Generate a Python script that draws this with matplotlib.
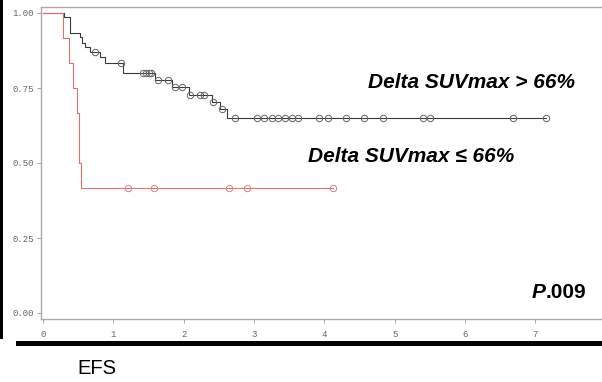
import numpy as np
import matplotlib
matplotlib.use("Agg")
import matplotlib.pyplot as plt
from matplotlib.patches import Rectangle

# Kaplan-Meier steps (time in years, survival)
black_t = [0, 0.30, 0.38, 0.53, 0.56, 0.60, 0.67, 0.81, 0.88, 1.14, 1.59, 1.84, 2.07, 2.40, 2.52, 2.62]
black_s = [1.0, 0.987, 0.933, 0.92, 0.90, 0.887, 0.87, 0.853, 0.833, 0.80, 0.777, 0.753, 0.727, 0.703, 0.68, 0.65]
black_cens = [0.74, 1.11, 1.42, 1.46, 1.50, 1.54, 1.64, 1.78, 1.88, 1.98, 2.09, 2.23, 2.29,
              2.42, 2.55, 2.73, 3.04, 3.14, 3.26, 3.34, 3.44, 3.54, 3.63, 3.93, 4.05,
              4.31, 4.57, 4.84, 5.41, 5.50, 6.69, 7.15]

red_t = [0, 0.28, 0.37, 0.43, 0.48, 0.51, 0.54]
red_s = [1.0, 0.917, 0.833, 0.75, 0.667, 0.50, 0.417]
red_cens = [1.21, 1.58, 2.65, 2.90, 4.12]

xticks = [0, 1, 2, 3, 4, 5, 6, 7]
yticks = [0.0, 0.25, 0.5, 0.75, 1.0]
ytick_labels = ["0.00", "0.25", "0.50", "0.75", "1.00"]

W, H = 602, 382
fig = plt.figure(figsize=(W / 100, H / 100), dpi=100)
fig.patch.set_facecolor("white")


def px(x, y):
    # pixel position -> figure fraction
    return x / W, 1 - y / H


ax = fig.add_axes([41 / W, 1 - 319 / H, (W - 41) / W, (319 - 7) / H])


def km(t, s, cens, color, mcolor):
    t = np.asarray(t)
    s = np.asarray(s)
    cens = np.asarray(cens)
    end = cens.max()
    ax.step(np.append(t, end), np.append(s, s[-1]), where="post", color=color, lw=0.8)
    idx = np.searchsorted(t, cens, side="right") - 1
    ax.plot(cens, s[idx], "o", ms=4.6, mfc="none", mec=mcolor, mew=0.7)


km(black_t, black_s, black_cens, "#3a3a3a", "#666666")
km(red_t, red_s, red_cens, "#e07070", "#e38080")

ax.set_xlim(-0.03, 7.95)
ax.set_ylim(-0.02, 1.02)
ax.set_xticks(xticks)
ax.set_yticks(yticks)
ax.set_yticklabels(ytick_labels)
for lab in ax.get_xticklabels() + ax.get_yticklabels():
    lab.set_fontfamily("Liberation Mono")
    lab.set_fontsize(6.5)
    lab.set_color("#666666")
ax.tick_params(axis="both", direction="out", length=3, width=0.6, color="#999999")
ax.tick_params(axis="x", pad=5)
ax.tick_params(axis="y", pad=2)
for side in ["left", "top", "bottom"]:
    ax.spines[side].set_color("#aaaaaa")
    ax.spines[side].set_linewidth(1.0)
ax.spines["right"].set_visible(False)

# annotations
fig.text(*px(471, 82), "Delta SUVmax > 66%", fontsize=15, fontweight="bold", style="italic",
         family="Liberation Sans", ha="center", va="center")
fig.text(*px(411, 157), "Delta SUVmax \u2264 66%", fontsize=15, fontweight="bold", style="italic",
         family="Liberation Sans", ha="center", va="center")
fig.text(*px(546, 293), "P", fontsize=15, fontweight="bold", style="italic",
         family="Liberation Sans", ha="right", va="center")
fig.text(*px(546, 293), ".009", fontsize=15, fontweight="bold",
         family="Liberation Sans", ha="left", va="center")
fig.text(*px(97, 368), "EFS", fontsize=14.5, family="Liberation Sans", ha="center", va="center")

# black frame bits of the slide
fig.add_artist(Rectangle(px(16, 346), (W - 16) / W, 5 / H, transform=fig.transFigure,
                         color="black", lw=0))
fig.add_artist(Rectangle(px(0, 339), 3 / W, 339 / H, transform=fig.transFigure,
                         color="black", lw=0))

fig.savefig("out.png", dpi=100)
